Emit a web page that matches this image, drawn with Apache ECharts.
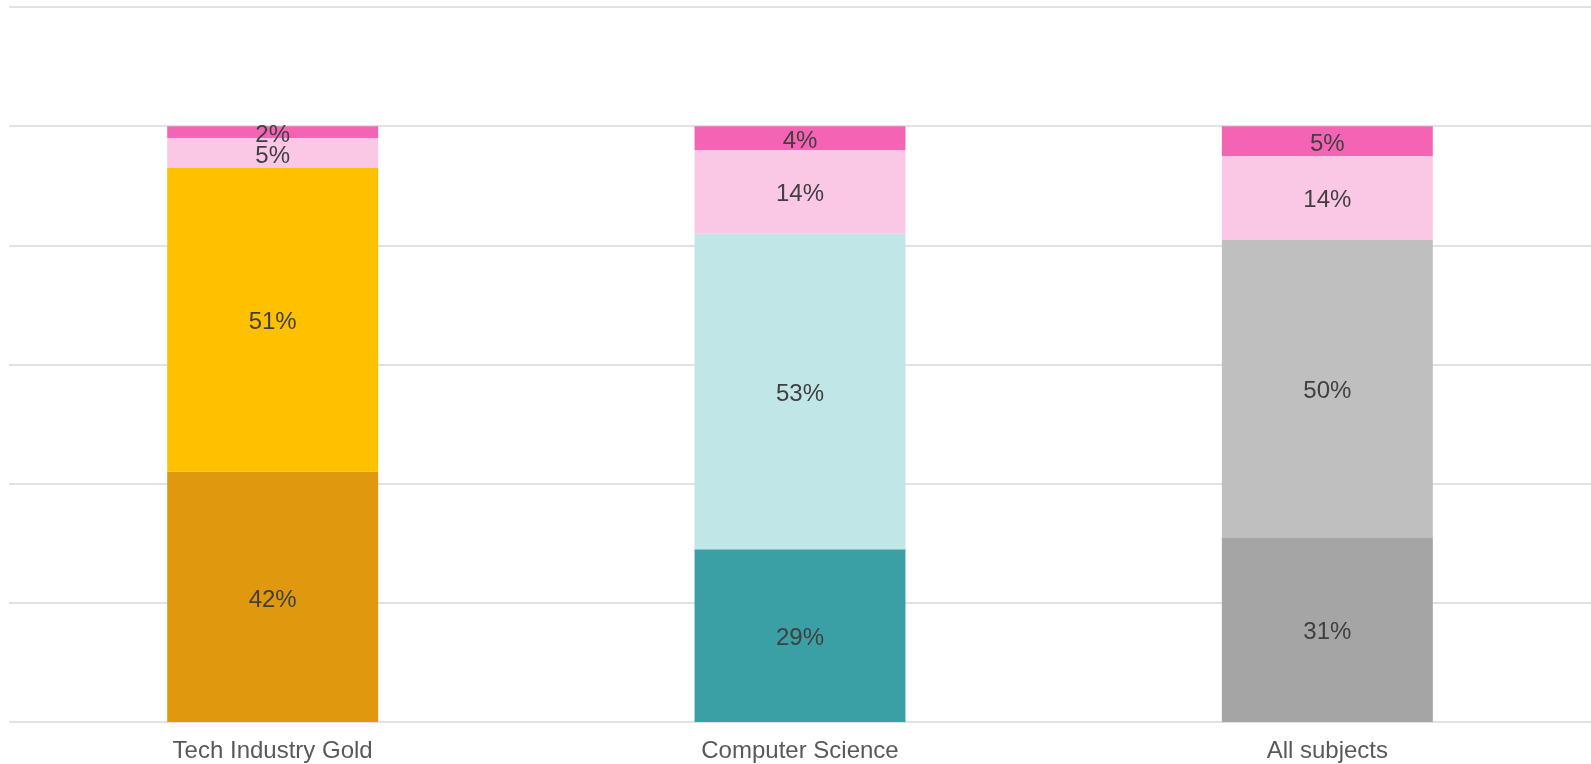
<!DOCTYPE html>
<html>
<head>
<meta charset="utf-8">
<script src="https://cdn.jsdelivr.net/npm/echarts@6/dist/echarts.min.js"></script>
<style>
  html, body { margin: 0; padding: 0; background: #fff; }
  #chart { width: 1591px; height: 764px; }
</style>
</head>
<body>
<div id="chart"></div>
<script>
// categories along the x axis
var categories = ['Tech Industry Gold', 'Computer Science', 'All subjects'];

// stacked segments, bottom to top (percent)
var seg1 = [42, 29, 31];
var seg2 = [51, 53, 50];
var seg3 = [5, 14, 14];
var seg4 = [2, 4, 5];

// colours per segment, one per category
var seg1Colors = ['#E0990E', '#3BA0A6', '#A5A5A5'];
var seg2Colors = ['#FFC000', '#C1E6E7', '#BFBFBF'];
var seg3Colors = ['#FAC8E4', '#FAC8E4', '#FAC8E4'];
var seg4Colors = ['#F564B4', '#F564B4', '#F564B4'];

var FONT = '"Liberation Sans", Arial, sans-serif';

function makeSeries(name, values, colors) {
	return {
		name: name,
		type: 'bar',
		stack: 'total',
		barWidth: '40%',
		data: values.map(function (v, i) {
			return { value: v, itemStyle: { color: colors[i] } };
		}),
		label: {
			show: true,
			position: 'inside',
			offset: [0, 3],
			formatter: '{c}%',
			color: '#404040',
			fontFamily: FONT,
			fontSize: 24
		}
	};
}

var chart = echarts.init(document.getElementById('chart'));
chart.setOption({
	animation: false,
	grid: {
		left: 9,
		right: 0,
		top: 7,
		bottom: 42
	},
	xAxis: {
		type: 'category',
		data: categories,
		axisLine: { show: false },
		axisTick: { show: false },
		axisLabel: {
			color: '#595959',
			fontFamily: FONT,
			fontSize: 24,
			margin: 17
		}
	},
	yAxis: {
		type: 'value',
		min: 0,
		max: 120,
		interval: 20,
		axisLabel: { show: false },
		axisLine: { show: false },
		axisTick: { show: false },
		splitLine: {
			lineStyle: { color: '#D9D9D9', width: 1.5 }
		}
	},
	series: [
		makeSeries('s1', seg1, seg1Colors),
		makeSeries('s2', seg2, seg2Colors),
		makeSeries('s3', seg3, seg3Colors),
		makeSeries('s4', seg4, seg4Colors)
	]
});
</script>
</body>
</html>
